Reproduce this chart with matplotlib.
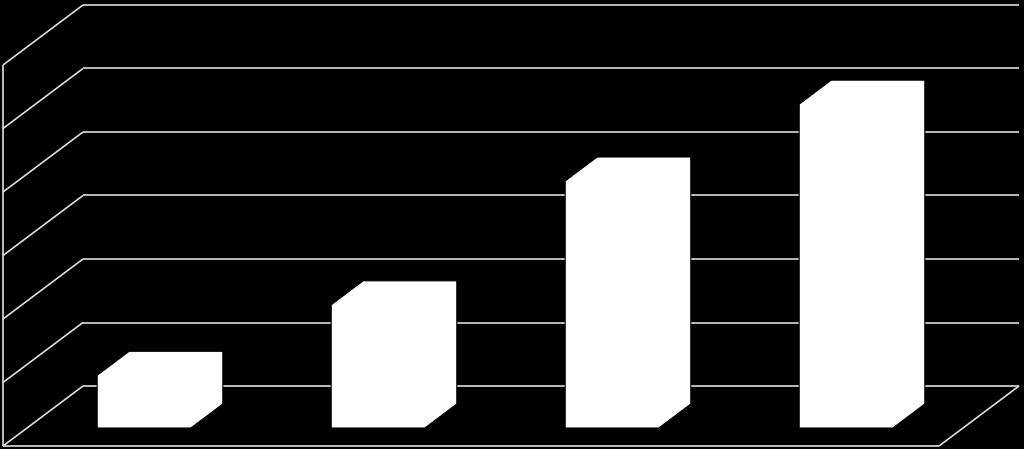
import matplotlib
matplotlib.use('Agg')
from matplotlib import pyplot as plt
from matplotlib.patches import Polygon

# chart data (no labels shown in the picture)
categories = ['Q1', 'Q2', 'Q3', 'Q4']
values = [0.83, 1.94, 3.89, 5.1]
grid_values = [0, 1, 2, 3, 4, 5, 6]

# oblique depth shift (data units per unit of depth)
depth_dx = 80 / 234
depth_dy = 60 / 63.5
bar_width = 0.4
bar_front, bar_back = 0.3, 0.7


def proj(x, v, d):
	return (x + d * depth_dx, v + d * depth_dy)


fig = plt.figure(figsize=(10.24, 4.49), dpi=100, facecolor='black')
ax = fig.add_axes([0, 0, 1, 1])
ax.set_facecolor('black')
ax.set_xlim(-3 / 234, 1021 / 234)
ax.set_ylim(-3 / 63.5, 446 / 63.5)
ax.axis('off')

grid_kw = dict(color='#dddddd', lw=1.2, zorder=1, solid_capstyle='butt')
n = len(categories)
top = grid_values[-1]

# back wall gridlines and left wall diagonals
for g in grid_values:
	p0, p1 = proj(0, g, 1), proj(n, g, 1)
	ax.plot([p0[0], p1[0]], [p0[1], p1[1]], **grid_kw)
	q0, q1 = proj(0, g, 0), proj(0, g, 1)
	ax.plot([q0[0], q1[0]], [q0[1], q1[1]], **grid_kw)

# left front edge and floor edges
for a, b in [(proj(0, 0, 0), proj(0, top, 0)),
			 (proj(0, 0, 0), proj(n, 0, 0)),
			 (proj(n, 0, 0), proj(n, 0, 1))]:
	ax.plot([a[0], b[0]], [a[1], b[1]], **grid_kw)

# bars (white boxes, silhouette only)
for i, v in enumerate(values):
	x0 = i + 0.5 - bar_width / 2
	x1 = i + 0.5 + bar_width / 2
	pts = [proj(x0, 0, bar_front), proj(x0, v, bar_front), proj(x0, v, bar_back),
		   proj(x1, v, bar_back), proj(x1, 0, bar_back), proj(x1, 0, bar_front)]
	ax.add_patch(Polygon(pts, closed=True, facecolor='white',
						 edgecolor='black', lw=0.8, zorder=3))

fig.savefig('out.png', dpi=100, facecolor='black')
